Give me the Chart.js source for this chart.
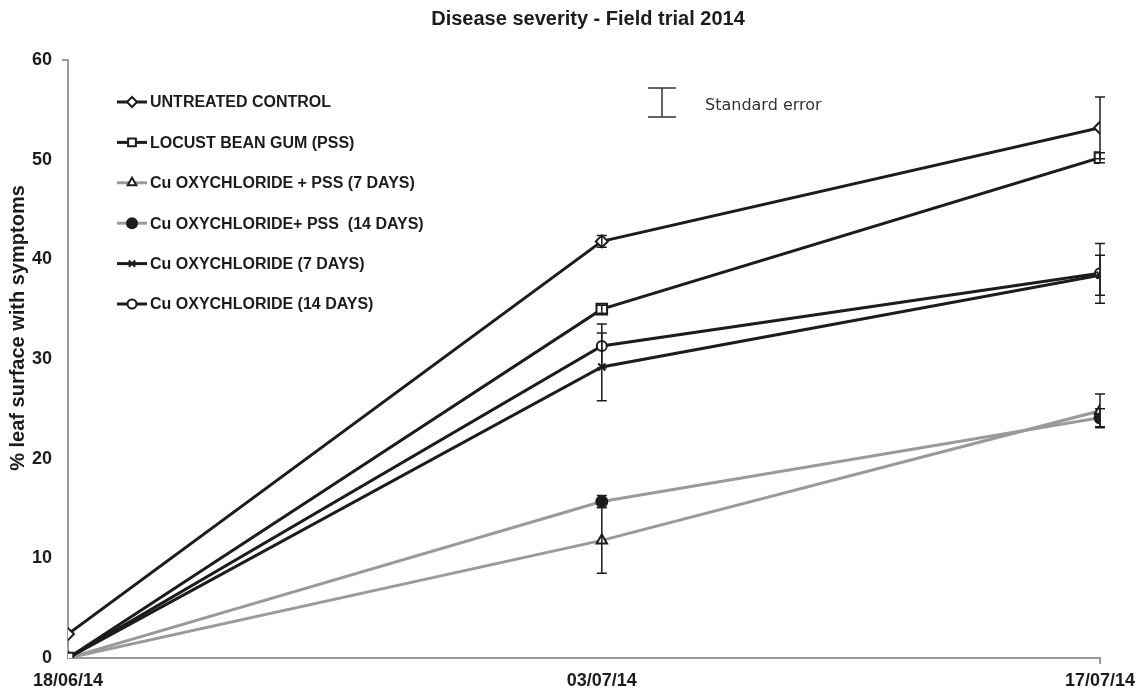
<!DOCTYPE html>
<html>
<head>
<meta charset="utf-8">
<script src="https://cdn.jsdelivr.net/npm/chart.js@4.4.1/dist/chart.umd.min.js"></script>
<style>
  html, body { margin: 0; padding: 0; background: #fff; }
  #wrap { width: 1138px; height: 689px; }
</style>
</head>
<body>
<div id="wrap"><canvas id="severityChart" width="1138" height="689"></canvas></div>
<script>
// sampling dates, as days since 18/06/14
const days = [0, 15, 29];
const dateLabels = ['18/06/14', '03/07/14', '17/07/14'];

const seriesNames = [
    'UNTREATED CONTROL',
    'LOCUST BEAN GUM (PSS)',
    'Cu OXYCHLORIDE + PSS (7 DAYS)',
    'Cu OXYCHLORIDE+ PSS  (14 DAYS)',
    'Cu OXYCHLORIDE (7 DAYS)',
    'Cu OXYCHLORIDE (14 DAYS)'
];

const untreated = [2.4, 41.8, 53.2];
const locustBean = [0, 35.0, 50.2];
const cuPss7 = [0, 11.8, 24.8];
const cuPss14 = [0, 15.7, 24.1];
const cu7 = [0, 29.2, 38.4];
const cu14 = [0, 31.3, 38.6];

// standard errors
const untreatedSE = [0, 0.6, 3.1];
const locustBeanSE = [0, 0.4, 0.5];
const cuPss7SE = [0, 3.3, 1.7];
const cuPss14SE = [0, 0.6, 0.9];
const cu7SE = [0, 3.4, 2.0];
const cu14SE = [0, 2.2, 3.0];

const BLACK = '#1c1c1c';
const GREY = '#9a9a9a';
const FONT = '"Liberation Sans", Arial, sans-serif';

function makeSet(label, values, se, lineColor, style, fill, radius, legendRadius) {
    return {
        label: label,
        data: values.map((v, i) => ({ x: days[i], y: v })),
        se: se,
        legendRadius: legendRadius,
        borderColor: lineColor,
        borderWidth: 3,
        pointStyle: style,
        pointRadius: radius,
        pointBorderWidth: 2,
        pointBorderColor: BLACK,
        pointBackgroundColor: fill,
        tension: 0,
        fill: false
    };
}

const datasets = [
    makeSet(seriesNames[0], untreated, untreatedSE, BLACK, 'rectRot', '#fff', 6, 5),
    makeSet(seriesNames[1], locustBean, locustBeanSE, BLACK, 'rect', '#fff', 7.5, 5.5),
    makeSet(seriesNames[4], cu7, cu7SE, BLACK, 'crossRot', BLACK, 5, 4.5),
    makeSet(seriesNames[5], cu14, cu14SE, BLACK, 'circle', '#fff', 5, 4.5),
    makeSet(seriesNames[2], cuPss7, cuPss7SE, GREY, 'triangle', '#fff', 6, 5),
    makeSet(seriesNames[3], cuPss14, cuPss14SE, GREY, 'circle', BLACK, 5.5, 5)
];

const legendOrder = [0, 1, 4, 5, 2, 3];

const extrasPlugin = {
    id: 'extras',
    afterDatasetsDraw(chart) {
        const { ctx, chartArea } = chart;
        const xs = chart.scales.x, ys = chart.scales.y;
        ctx.save();

        // axis end stubs
        ctx.strokeStyle = GREY;
        ctx.lineWidth = 2;
        ctx.beginPath();
        ctx.moveTo(chartArea.left - 6, chartArea.top); ctx.lineTo(chartArea.left, chartArea.top);
        ctx.moveTo(chartArea.right, chartArea.bottom); ctx.lineTo(chartArea.right, chartArea.bottom + 6);
        ctx.stroke();

        // error bars
        ctx.strokeStyle = BLACK;
        ctx.lineWidth = 1.5;
        chart.data.datasets.forEach(ds => {
            ds.data.forEach((p, i) => {
                const e = ds.se[i];
                if (!e) return;
                const x = xs.getPixelForValue(p.x);
                const y1 = ys.getPixelForValue(p.y + e);
                const y2 = ys.getPixelForValue(p.y - e);
                ctx.beginPath();
                ctx.moveTo(x, y1); ctx.lineTo(x, y2);
                ctx.moveTo(x - 5, y1); ctx.lineTo(x + 5, y1);
                ctx.moveTo(x - 5, y2); ctx.lineTo(x + 5, y2);
                ctx.stroke();
            });
        });

        // legend
        const lx = chartArea.left + 49;
        let ly = chartArea.top + 42;
        ctx.font = 'bold 16px ' + FONT;
        ctx.textBaseline = 'middle';
        ctx.textAlign = 'left';
        legendOrder.forEach(k => {
            const ds = chart.data.datasets[k];
            ctx.strokeStyle = ds.borderColor;
            ctx.lineWidth = 3;
            ctx.beginPath();
            ctx.moveTo(lx, ly); ctx.lineTo(lx + 30, ly);
            ctx.stroke();
            ctx.fillStyle = ds.pointBackgroundColor;
            ctx.strokeStyle = ds.pointBorderColor;
            ctx.lineWidth = ds.pointBorderWidth;
            Chart.helpers.drawPoint(ctx, {
                pointStyle: ds.pointStyle,
                radius: ds.legendRadius,
                borderWidth: ds.pointBorderWidth,
                rotation: 0
            }, lx + 15, ly);
            ctx.fillStyle = BLACK;
            ctx.fillText(ds.label, lx + 33, ly + 1);
            ly += 40.4;
        });

        // standard error key
        const sx = chartArea.left + 594, st = chartArea.top + 28, sb = chartArea.top + 57;
        ctx.strokeStyle = '#333';
        ctx.lineWidth = 1.5;
        ctx.beginPath();
        ctx.moveTo(sx, st); ctx.lineTo(sx, sb);
        ctx.moveTo(sx - 14, st); ctx.lineTo(sx + 14, st);
        ctx.moveTo(sx - 14, sb); ctx.lineTo(sx + 14, sb);
        ctx.stroke();
        ctx.fillStyle = '#333';
        ctx.font = '16px "DejaVu Sans", Verdana, sans-serif';
        ctx.fillText('Standard error', sx + 43, chartArea.top + 46);

        // title
        ctx.fillStyle = BLACK;
        ctx.textAlign = 'center';
        ctx.font = 'bold 20px ' + FONT;
        ctx.fillText('Disease severity - Field trial 2014', 588, 19);

        // y axis title
        ctx.translate(18, 328);
        ctx.rotate(-Math.PI / 2);
        ctx.fillText('% leaf surface with symptoms', 0, 0);
        ctx.restore();
    }
};

new Chart(document.getElementById('severityChart').getContext('2d'), {
    type: 'line',
    data: { datasets: datasets },
    plugins: [extrasPlugin],
    options: {
        responsive: false,
        animation: false,
        layout: { padding: { top: 60, right: 38, left: 0, bottom: 0 } },
        plugins: {
            legend: { display: false },
            title: { display: false },
            tooltip: { enabled: false }
        },
        scales: {
            x: {
                type: 'linear',
                min: 0,
                max: 29,
                afterBuildTicks: (scale) => {
                    scale.ticks = days.map(d => ({ value: d }));
                },
                afterFit: (scale) => {
                    scale.height = 31;
                    scale.paddingLeft = 0;
                    scale.paddingRight = 0;
                },
                ticks: {
                    autoSkip: false,
                    maxRotation: 0,
                    padding: 12,
                    color: BLACK,
                    font: { family: FONT, size: 18, weight: 'bold' },
                    callback: (v) => dateLabels[days.indexOf(v)]
                },
                grid: { drawOnChartArea: false, drawTicks: false },
                border: { display: true, color: GREY, width: 2 }
            },
            y: {
                min: 0,
                max: 60,
                afterFit: (scale) => {
                    scale.width = 68;
                    scale.paddingTop = 0;
                    scale.paddingBottom = 0;
                },
                ticks: {
                    stepSize: 10,
                    padding: 16,
                    color: BLACK,
                    font: { family: FONT, size: 18, weight: 'bold' }
                },
                grid: { drawOnChartArea: false, drawTicks: false },
                border: { display: true, color: GREY, width: 2 }
            }
        }
    }
});
</script>
</body>
</html>
